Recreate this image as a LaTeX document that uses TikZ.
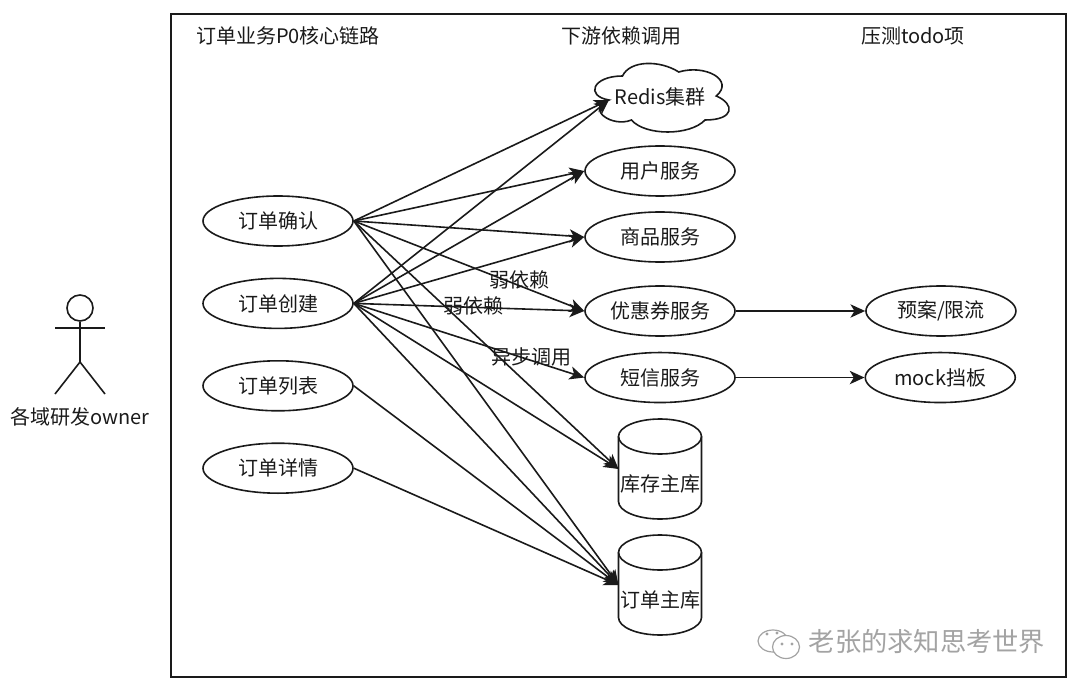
\documentclass[tikz,border=0pt]{standalone}
\usepackage{fontspec}
\setmainfont{Noto Sans CJK SC}
\usetikzlibrary{arrows.meta,positioning,shapes.geometric}
\definecolor{ink}{HTML}{1A1A1A}
\definecolor{brandgray}{HTML}{A3A3A3}
% can outline around a store node
\newcommand{\dbcan}[1]{%
  \begin{scope}[shift={(#1.center)}]
    \draw[stick] (-41.5,-32.5) arc[start angle=180,end angle=360,x radius=41.5,y radius=17.5]
       -- (41.5,32.5) arc[start angle=0,end angle=180,x radius=41.5,y radius=17.5] -- cycle;
    \draw[stick] (-41.5,-32.5) arc[start angle=180,end angle=0,x radius=41.5,y radius=17.5];
  \end{scope}}

\begin{document}
\begin{tikzpicture}[x=0.75pt,y=-0.75pt,>={Stealth[length=11pt,width=10pt,inset=3pt]},
            font=\fontsize{15pt}{17pt}\selectfont,text=ink,
            oval/.style={ellipse,draw=ink,line width=1.2pt,inner sep=0pt,
                         minimum width=112.5pt,minimum height=37.5pt},
            store/.style={rectangle,inner sep=0pt,outer sep=0pt,
                          minimum width=62.25pt,minimum height=75pt},
            link/.style={->,ink,line width=1.2pt},
            stick/.style={ink,line width=1.2pt}]
  \useasboundingbox (0,0) rectangle (1080,691);
  \draw[ink,line width=1.5pt] (171,14) rectangle (1066,677);

  % column titles
  \node (titleA) at (288,36) {订单业务P0核心链路};
  \node (titleB) at (621,36) {下游依赖调用};
  \node (titleC) at (913,36) {压测todo项};

  % person on the left
  \node[circle,draw=ink,line width=1.2pt,inner sep=0pt,minimum size=19.5pt] (head) at (80,308) {};
  \coordinate (hip) at (80,362);
  \coordinate (armL) at (55,328);
  \coordinate (armR) at (105,328);
  \coordinate (footL) at (55,394);
  \coordinate (footR) at (105,394);
  \draw[stick] (head) -- (hip);
  \draw[stick] (armL) -- (armR);
  \draw[stick] (footL) -- (hip) -- (footR);
  \node (owner) at (80,417) {各域研发owner};

  % business entries
  \node[oval] (confirm) at (278,221) {订单确认};
  \node[oval,below=23.1pt of confirm] (create) {订单创建};
  \node[oval,below=23.1pt of create] (list) {订单列表};
  \node[oval,below=23.1pt of list] (detail) {订单详情};

  % downstream services
  \draw[stick] (622.5,76) .. controls (592.5,76) and (585,96) .. (609,100)
     .. controls (585,108.8) and (612,128) .. (631.5,120)
     .. controls (645,136) and (690,136) .. (705,120)
     .. controls (735,120) and (735,104) .. (716.25,96)
     .. controls (735,80) and (705,64) .. (678.75,72)
     .. controls (660,60) and (630,60) .. (622.5,76) -- cycle;
  \node (redis) at (660,97) {Redis集群};
  \coordinate (redisIn) at (609,100);
  \node[oval] (user) at (660,171) {用户服务};
  \node[oval,below=10.8pt of user] (goods) {商品服务};
  \node[oval,below=16.8pt of goods] (coupon) {优惠券服务};
  \node[oval,below=11.2pt of coupon] (sms) {短信服务};
  \node[store,label={[yshift=-11pt]center:库存主库}] (stock) at (660,469) {};
  \node[store,label={[yshift=-11pt]center:订单主库}] (order) at (660,585) {};
  \dbcan{stock}
  \dbcan{order}

  % todo items
  \node[oval,right=97pt of coupon] (plan) {预案/限流};
  \node[oval,right=96.5pt of sms] (mock) {mock挡板};

  % calls from the entries
  \draw[link] (confirm.east) -- (redisIn);
  \draw[link] (confirm.east) -- (user.west);
  \draw[link] (confirm.east) -- (goods.west);
  \draw[link] (confirm.east) -- (coupon.west);
  \draw[link] (confirm.east) -- (stock.west);
  \draw[link] (confirm.east) -- (order.west);
  \draw[link] (create.east) -- (redisIn);
  \draw[link] (create.east) -- (user.west);
  \draw[link] (create.east) -- (goods.west);
  \draw[link] (create.east) -- (coupon.west);
  \draw[link] (create.east) -- (sms.west);
  \draw[link] (create.east) -- (stock.west);
  \draw[link] (create.east) -- (order.west);
  \draw[link] (list.east) -- (order.west);
  \draw[link] (detail.east) -- (order.west);
  \draw[link] (coupon) -- (plan);
  \draw[link] (sms) -- (mock);

  % edge remarks
  \node (weakA) at (519,280) {弱依赖};
  \node (weakB) at (473,306) {弱依赖};
  \node (async) at (531,357) {异步调用};

  % account mark, lower right
  \draw[brandgray,line width=0.9pt,fill=white] (773,641) ellipse [x radius=15,y radius=11];
  \draw[brandgray,line width=0.9pt,fill=white] (786,647) ellipse [x radius=13.5,y radius=11.5];
  \fill[brandgray] (767,634) circle [radius=1.6];
  \fill[brandgray] (777,633) circle [radius=1.6];
  \fill[brandgray] (782,644) circle [radius=1.6];
  \fill[brandgray] (792,644) circle [radius=1.6];
  \node[font=\fontsize{19.7pt}{22pt}\selectfont,text=brandgray] (brand) at (927,642) {老张的求知思考世界};
\end{tikzpicture}
\end{document}
